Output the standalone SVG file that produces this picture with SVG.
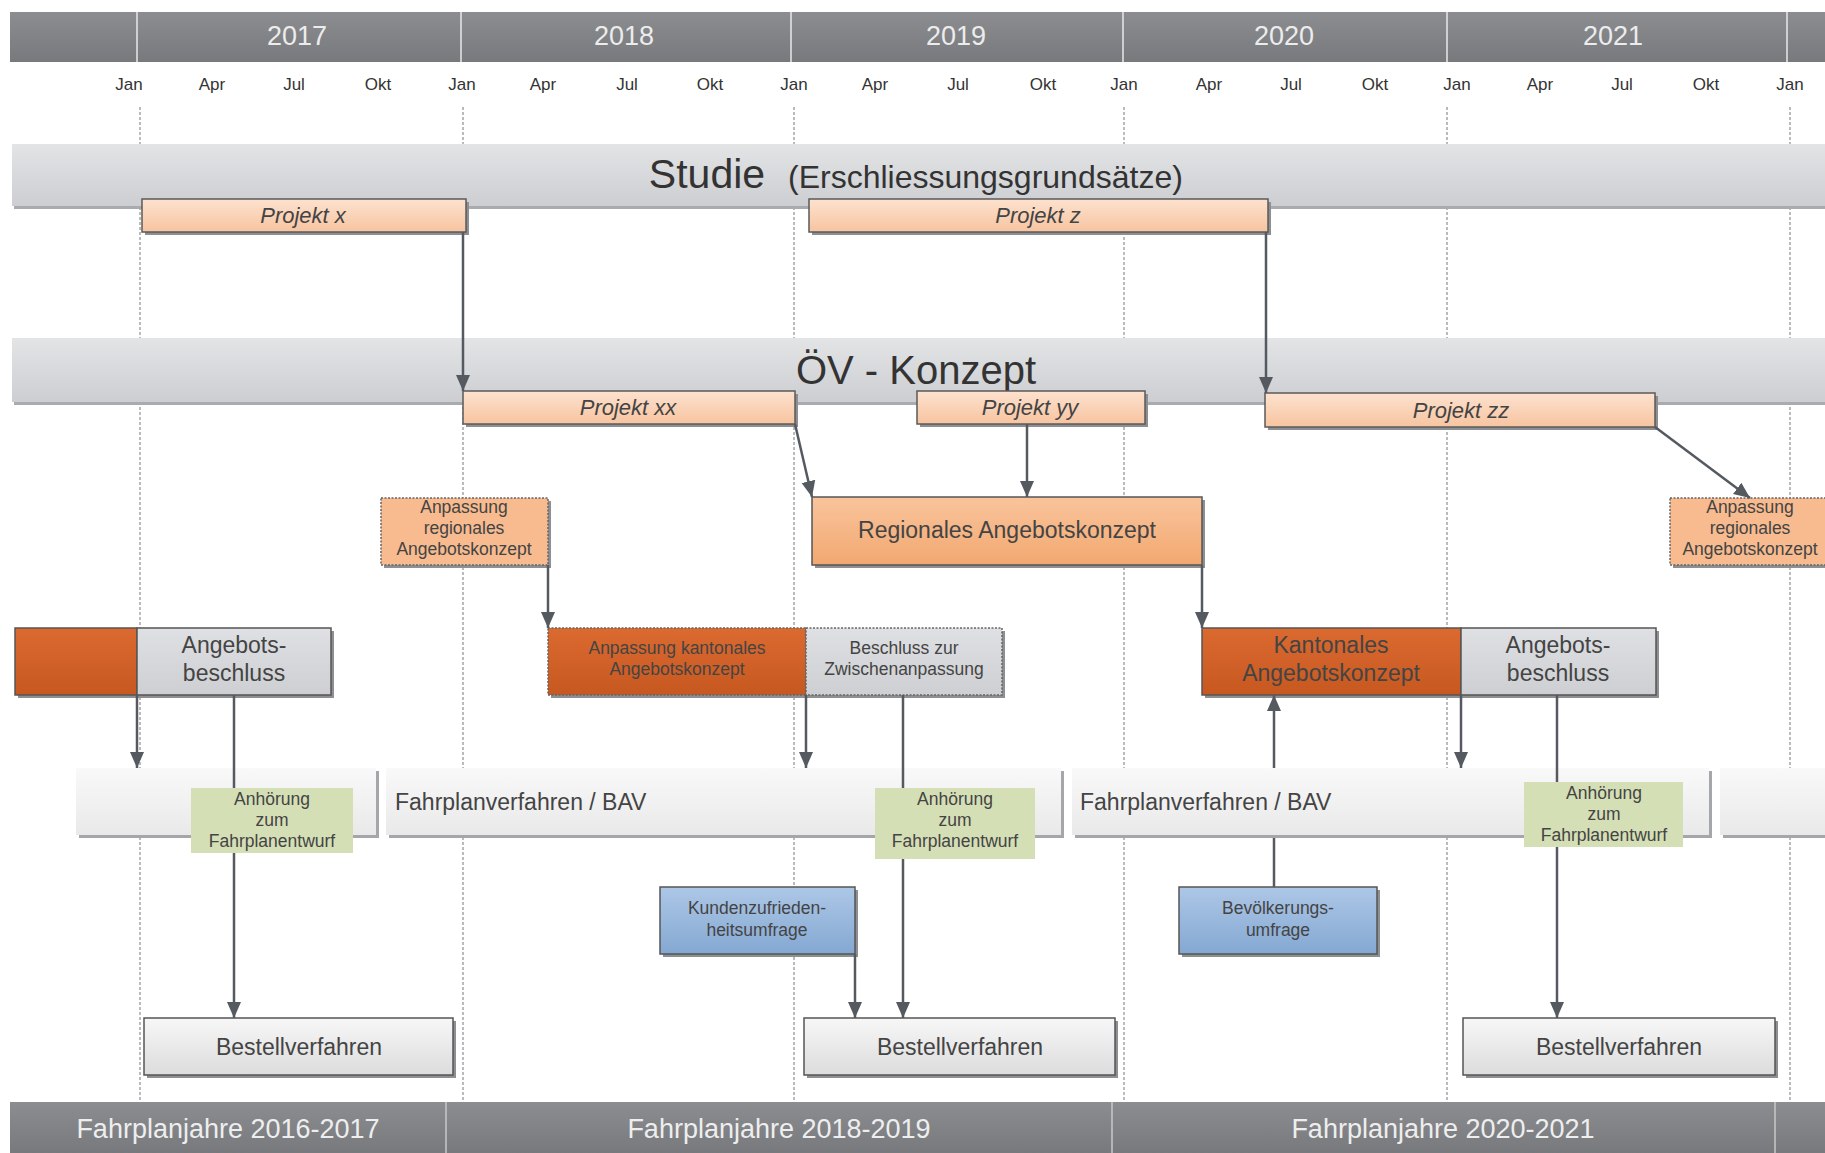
<svg xmlns="http://www.w3.org/2000/svg" width="1825" height="1153" viewBox="0 0 1825 1153">
<style>
text{font-family:"Liberation Sans",Arial,sans-serif;}
.yr{font-size:27px;fill:#ececec;text-anchor:middle;}
.mo{font-size:17px;fill:#333;text-anchor:middle;}
.grid{stroke:#777;stroke-width:1;stroke-dasharray:3 2;}
.con{stroke:#555a60;stroke-width:2.5;fill:none;}
.shadow{fill:#8d8f92;}
.proj{fill:url(#gProj);stroke:#5a5a5a;stroke-width:1.5;}
.pt{font-size:22px;font-style:italic;fill:#444;text-anchor:middle;}
.big{font-size:23px;fill:#444;text-anchor:middle;}
.sm{font-size:17.5px;fill:#444;text-anchor:middle;}
.dot{stroke:#666;stroke-width:1.5;stroke-dasharray:2 1.5;}
.solid{stroke:#555;stroke-width:1.5;}
.bar{fill:url(#gBar);}
.fy{font-size:27px;fill:#eeeeee;text-anchor:middle;}
</style>
<defs>
<linearGradient id="gTop" x1="0" y1="0" x2="0" y2="1"><stop offset="0" stop-color="#8b8d90"/><stop offset="1" stop-color="#77797c"/></linearGradient>
<linearGradient id="gBand" x1="0" y1="0" x2="0" y2="1"><stop offset="0" stop-color="#e3e4e6"/><stop offset="1" stop-color="#cdced1"/></linearGradient>
<linearGradient id="gProj" x1="0" y1="0" x2="0" y2="1"><stop offset="0" stop-color="#fde2cf"/><stop offset="1" stop-color="#f7c4a0"/></linearGradient>
<linearGradient id="gReg" x1="0" y1="0" x2="0" y2="1"><stop offset="0" stop-color="#f9c49c"/><stop offset="1" stop-color="#f2a870"/></linearGradient>
<linearGradient id="gDark" x1="0" y1="0" x2="0" y2="1"><stop offset="0" stop-color="#db6a30"/><stop offset="1" stop-color="#c65820"/></linearGradient>
<linearGradient id="gGray" x1="0" y1="0" x2="0" y2="1"><stop offset="0" stop-color="#dfe0e3"/><stop offset="1" stop-color="#cdcfd2"/></linearGradient>
<linearGradient id="gBlue" x1="0" y1="0" x2="0" y2="1"><stop offset="0" stop-color="#adc7e6"/><stop offset="1" stop-color="#84a8d2"/></linearGradient>
<linearGradient id="gBest" x1="0" y1="0" x2="0" y2="1"><stop offset="0" stop-color="#f7f7f7"/><stop offset="1" stop-color="#dcdcdc"/></linearGradient>
<linearGradient id="gBar" x1="0" y1="0" x2="0" y2="1"><stop offset="0" stop-color="#f9f9f9"/><stop offset="1" stop-color="#e9e9ea"/></linearGradient>
<marker id="arr" markerUnits="userSpaceOnUse" markerWidth="16" markerHeight="16" refX="16" refY="7" orient="auto" viewBox="0 0 16 14"><path d="M0,0 L16,7 L0,14 z" fill="#555a60"/></marker>
</defs>

<!-- timeline header -->
<g id="timeline">
<rect x="10" y="12" width="1815" height="50" fill="url(#gTop)"/>
<g stroke="#e8e8e8" stroke-width="1.5">
<line x1="137" y1="12" x2="137" y2="62"/><line x1="461" y1="12" x2="461" y2="62"/><line x1="791" y1="12" x2="791" y2="62"/><line x1="1123" y1="12" x2="1123" y2="62"/><line x1="1447" y1="12" x2="1447" y2="62"/><line x1="1787" y1="12" x2="1787" y2="62"/>
</g>
<text class="yr" x="297" y="45">2017</text>
<text class="yr" x="624" y="45">2018</text>
<text class="yr" x="956" y="45">2019</text>
<text class="yr" x="1284" y="45">2020</text>
<text class="yr" x="1613" y="45">2021</text>
<g>
<text class="mo" x="129" y="90">Jan</text><text class="mo" x="212" y="90">Apr</text><text class="mo" x="294" y="90">Jul</text><text class="mo" x="378" y="90">Okt</text>
<text class="mo" x="462" y="90">Jan</text><text class="mo" x="543" y="90">Apr</text><text class="mo" x="627" y="90">Jul</text><text class="mo" x="710" y="90">Okt</text>
<text class="mo" x="794" y="90">Jan</text><text class="mo" x="875" y="90">Apr</text><text class="mo" x="958" y="90">Jul</text><text class="mo" x="1043" y="90">Okt</text>
<text class="mo" x="1124" y="90">Jan</text><text class="mo" x="1209" y="90">Apr</text><text class="mo" x="1291" y="90">Jul</text><text class="mo" x="1375" y="90">Okt</text>
<text class="mo" x="1457" y="90">Jan</text><text class="mo" x="1540" y="90">Apr</text><text class="mo" x="1622" y="90">Jul</text><text class="mo" x="1706" y="90">Okt</text>
<text class="mo" x="1790" y="90">Jan</text>
</g>
</g>

<g id="gridlines">
<line class="grid" x1="140" y1="107" x2="140" y2="1100"/>
<line class="grid" x1="463" y1="107" x2="463" y2="1100"/>
<line class="grid" x1="794" y1="107" x2="794" y2="1100"/>
<line class="grid" x1="1124" y1="107" x2="1124" y2="1100"/>
<line class="grid" x1="1447" y1="107" x2="1447" y2="1100"/>
<line class="grid" x1="1790" y1="107" x2="1790" y2="1100"/>
</g>

<g id="studie">
<rect x="14" y="147" width="1811" height="62" fill="#a9abae"/>
<rect x="12" y="144" width="1813" height="62" fill="url(#gBand)"/>
<text x="707" y="188" font-size="41" fill="#333" text-anchor="middle">Studie</text>
<text x="788" y="188" font-size="32" fill="#333">(Erschliessungsgrundsätze)</text>
</g>

<g id="oev-konzept">
<rect x="14" y="341" width="1811" height="64" fill="#a9abae"/>
<rect x="12" y="338" width="1813" height="64" fill="url(#gBand)"/>
<text x="916" y="384" font-size="40" fill="#333" text-anchor="middle">ÖV - Konzept</text>
</g>

<g id="projekt-x"><rect class="shadow" x="145" y="202" width="324" height="33"/><rect class="proj" x="142" y="199" width="324" height="33"/><text class="pt" x="303" y="223">Projekt x</text></g>
<g id="projekt-z"><rect class="shadow" x="812" y="202" width="459" height="33"/><rect class="proj" x="809" y="199" width="459" height="33"/><text class="pt" x="1038" y="223">Projekt z</text></g>
<g id="projekt-xx"><rect class="shadow" x="466" y="394" width="332" height="33"/><rect class="proj" x="463" y="391" width="332" height="33"/><text class="pt" x="628" y="415">Projekt xx</text></g>
<g id="projekt-yy"><rect class="shadow" x="920" y="394" width="228" height="33"/><rect class="proj" x="917" y="391" width="228" height="33"/><text class="pt" x="1030" y="415">Projekt yy</text></g>
<g id="projekt-zz"><rect class="shadow" x="1268" y="396" width="390" height="34"/><rect class="proj" x="1265" y="393" width="390" height="34"/><text class="pt" x="1461" y="418">Projekt zz</text></g>

<g id="anpassung-regional-1"><rect class="shadow" x="384" y="501" width="167" height="67"/><rect class="dot" x="381" y="498" width="167" height="67" fill="#f7bb8f"/>
<text class="sm" x="464" y="513">Anpassung</text><text class="sm" x="464" y="534">regionales</text><text class="sm" x="464" y="555">Angebotskonzept</text></g>

<g id="regionales-angebotskonzept"><rect class="shadow" x="815" y="500" width="390" height="68"/><rect class="solid" x="812" y="497" width="390" height="68" fill="url(#gReg)"/>
<text class="big" x="1007" y="538">Regionales Angebotskonzept</text></g>

<g id="anpassung-regional-2"><rect class="shadow" x="1673" y="501" width="152" height="67"/><rect class="dot" x="1670" y="498" width="160" height="67" fill="#f7bb8f"/>
<text class="sm" x="1750" y="513">Anpassung</text><text class="sm" x="1750" y="534">regionales</text><text class="sm" x="1750" y="555">Angebotskonzept</text></g>

<g id="angebotsbeschluss-1">
<rect class="shadow" x="18" y="631" width="316" height="67"/>
<rect class="solid" x="15" y="628" width="122" height="67" fill="url(#gDark)"/>
<rect class="solid" x="137" y="628" width="194" height="67" fill="url(#gGray)"/>
<text class="big" x="234" y="653">Angebots-</text><text class="big" x="234" y="681">beschluss</text></g>

<g id="anpassung-kantonal">
<rect class="shadow" x="551" y="631" width="454" height="67"/>
<rect class="dot" x="548" y="628" width="258" height="67" fill="url(#gDark)"/>
<text class="sm" x="677" y="654" fill="#6a3b22">Anpassung kantonales</text><text class="sm" x="677" y="675" fill="#6a3b22">Angebotskonzept</text></g>

<g id="beschluss-zwischenanpassung">
<rect class="dot" x="806" y="628" width="196" height="67" fill="url(#gGray)"/>
<text class="sm" x="904" y="654">Beschluss zur</text><text class="sm" x="904" y="675">Zwischenanpassung</text></g>

<g id="kantonales-angebotskonzept">
<rect class="shadow" x="1205" y="631" width="454" height="67"/>
<rect class="solid" x="1202" y="628" width="259" height="67" fill="url(#gDark)"/>
<text class="big" x="1331" y="653" fill="#5a3322">Kantonales</text><text class="big" x="1331" y="681" fill="#5a3322">Angebotskonzept</text></g>

<g id="angebotsbeschluss-2">
<rect class="solid" x="1461" y="628" width="195" height="67" fill="url(#gGray)"/>
<text class="big" x="1558" y="653">Angebots-</text><text class="big" x="1558" y="681">beschluss</text></g>

<g id="fahrplanverfahren-1"><rect x="79" y="771" width="300" height="67" fill="#a4a6a9"/><rect class="bar" x="76" y="768" width="300" height="67"/></g>
<g id="fahrplanverfahren-2"><rect x="389" y="771" width="675" height="67" fill="#a4a6a9"/><rect class="bar" x="386" y="768" width="675" height="67"/>
<text x="395" y="810" font-size="23" fill="#444">Fahrplanverfahren / BAV</text></g>
<g id="fahrplanverfahren-3"><rect x="1075" y="771" width="637" height="67" fill="#a4a6a9"/><rect class="bar" x="1072" y="768" width="637" height="67"/>
<text x="1080" y="810" font-size="23" fill="#444">Fahrplanverfahren / BAV</text></g>
<g id="fahrplanverfahren-4"><rect x="1723" y="771" width="102" height="67" fill="#a4a6a9"/><rect class="bar" x="1720" y="768" width="105" height="67"/></g>

<g id="anhoerung-1"><rect x="191" y="788" width="162" height="65" fill="#d5dfb6"/>
<text class="sm" x="272" y="805">Anhörung</text><text class="sm" x="272" y="826">zum</text><text class="sm" x="272" y="847">Fahrplanentwurf</text></g>
<g id="anhoerung-2"><rect x="875" y="788" width="160" height="71" fill="#d5dfb6"/>
<text class="sm" x="955" y="805">Anhörung</text><text class="sm" x="955" y="826">zum</text><text class="sm" x="955" y="847">Fahrplanentwurf</text></g>
<g id="anhoerung-3"><rect x="1524" y="782" width="159" height="65" fill="#d5dfb6"/>
<text class="sm" x="1604" y="799">Anhörung</text><text class="sm" x="1604" y="820">zum</text><text class="sm" x="1604" y="841">Fahrplanentwurf</text></g>

<g id="kundenzufriedenheit"><rect class="shadow" x="663" y="890" width="195" height="67"/><rect class="solid" x="660" y="887" width="195" height="67" fill="url(#gBlue)"/>
<text class="sm" x="757" y="914" fill="#2e3d52">Kundenzufrieden-</text><text class="sm" x="757" y="936" fill="#2e3d52">heitsumfrage</text></g>
<g id="bevoelkerungsumfrage"><rect class="shadow" x="1182" y="890" width="198" height="67"/><rect class="solid" x="1179" y="887" width="198" height="67" fill="url(#gBlue)"/>
<text class="sm" x="1278" y="914" fill="#2e3d52">Bevölkerungs-</text><text class="sm" x="1278" y="936" fill="#2e3d52">umfrage</text></g>

<g id="bestellverfahren-1"><rect class="shadow" x="147" y="1021" width="309" height="57"/><rect class="solid" x="144" y="1018" width="309" height="57" fill="url(#gBest)"/>
<text class="big" x="299" y="1055">Bestellverfahren</text></g>
<g id="bestellverfahren-2"><rect class="shadow" x="807" y="1021" width="311" height="57"/><rect class="solid" x="804" y="1018" width="311" height="57" fill="url(#gBest)"/>
<text class="big" x="960" y="1055">Bestellverfahren</text></g>
<g id="bestellverfahren-3"><rect class="shadow" x="1466" y="1021" width="312" height="57"/><rect class="solid" x="1463" y="1018" width="312" height="57" fill="url(#gBest)"/>
<text class="big" x="1619" y="1055">Bestellverfahren</text></g>

<g id="connectors">
<line class="con" x1="463" y1="232" x2="463" y2="391" marker-end="url(#arr)"/>
<line class="con" x1="1266" y1="232" x2="1266" y2="393" marker-end="url(#arr)"/>
<line class="con" x1="795" y1="424" x2="812" y2="497" marker-end="url(#arr)"/>
<line class="con" x1="1027" y1="424" x2="1027" y2="497" marker-end="url(#arr)"/>
<line class="con" x1="1655" y1="427" x2="1750" y2="498" marker-end="url(#arr)"/>
<line class="con" x1="1202" y1="565" x2="1202" y2="628" marker-end="url(#arr)"/>
<line class="con" x1="548" y1="565" x2="548" y2="628" marker-end="url(#arr)"/>
<line class="con" x1="137" y1="695" x2="137" y2="768" marker-end="url(#arr)"/>
<line class="con" x1="234" y1="695" x2="234" y2="788"/>
<line class="con" x1="234" y1="853" x2="234" y2="1018" marker-end="url(#arr)"/>
<line class="con" x1="806" y1="695" x2="806" y2="768" marker-end="url(#arr)"/>
<line class="con" x1="903" y1="695" x2="903" y2="788"/>
<line class="con" x1="903" y1="859" x2="903" y2="1018" marker-end="url(#arr)"/>
<line class="con" x1="855" y1="954" x2="855" y2="1018" marker-end="url(#arr)"/>
<line class="con" x1="1274" y1="887" x2="1274" y2="838"/>
<line class="con" x1="1274" y1="768" x2="1274" y2="695" marker-end="url(#arr)"/>
<line class="con" x1="1461" y1="695" x2="1461" y2="768" marker-end="url(#arr)"/>
<line class="con" x1="1557" y1="695" x2="1557" y2="782"/>
<line class="con" x1="1557" y1="847" x2="1557" y2="1018" marker-end="url(#arr)"/>
</g>

<g id="fahrplanjahre">
<rect x="10" y="1102" width="1815" height="51" fill="url(#gTop)"/>
<g stroke="#c8c8c8" stroke-width="1.5"><line x1="446" y1="1102" x2="446" y2="1153"/><line x1="1112" y1="1102" x2="1112" y2="1153"/><line x1="1775" y1="1102" x2="1775" y2="1153"/></g>
<text class="fy" x="228" y="1138">Fahrplanjahre 2016-2017</text>
<text class="fy" x="779" y="1138">Fahrplanjahre 2018-2019</text>
<text class="fy" x="1443" y="1138">Fahrplanjahre 2020-2021</text>
</g>
</svg>
